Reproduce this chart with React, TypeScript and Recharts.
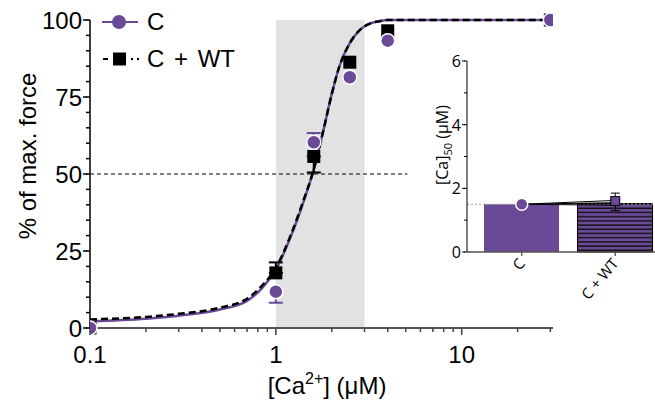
import React from "react";
import {
    ComposedChart,
    Line,
    Scatter,
    Bar,
    Cell,
    XAxis,
    YAxis,
    ErrorBar,
    ReferenceArea,
    ReferenceLine,
} from "recharts";

const PURPLE = "#6a4a97";
const FONT = "'Liberation Sans', Arial, sans-serif";
const INSET_FONT = "'Open Sans', 'DejaVu Sans', sans-serif";

// fitted curves
const curveX = [0.1, 0.2, 0.3, 0.5, 0.7, 0.85, 1.0, 1.2, 1.4, 1.6, 1.8, 2.0, 2.2, 2.5, 2.8, 3.2, 3.6, 4.0, 6, 10, 30];
const curveC = [2.2, 3.0, 4.0, 6.0, 8.8, 13.2, 19, 29.5, 40.5, 51.5, 64, 76, 85, 92.5, 96.5, 98.8, 99.6, 100, 100, 100, 100];
const curveWT = [2.8, 3.6, 4.6, 6.6, 9.5, 14, 19.5, 30, 41, 51.5, 64, 76, 85, 92.5, 96.5, 98.8, 99.6, 100, 100, 100, 100];

// measured points
const doseX = [0.1, 1, 1.6, 2.5, 4, 30];
const forceC = [0, 11.8, 60.3, 81.4, 93.3, 100];
const forceWT = [0, 17.9, 55.7, 86.3, 96.5, 100];

// visible error bars only
const errDoseC = [1, 1.6];
const errMeanC = [11.8, 60.3];
const errDeltaC = [[3.6, 0], [0, 3]];
const errDoseWT = [1, 1.6];
const errMeanWT = [17.9, 55.7];
const errDeltaWT = [[0, 3.4], [5.2, 0]];

const xTicks = [0.1, 0.2, 0.3, 0.4, 0.5, 0.6, 0.7, 0.8, 0.9, 1, 2, 3, 4, 5, 6, 7, 8, 9, 10, 20, 30];
const xLabels = [0.1, 1, 10];
const yTicks = [0, 5, 10, 15, 20, 25, 30, 35, 40, 45, 50, 55, 60, 65, 70, 75, 80, 85, 90, 95, 100];
const yLabels = [0, 25, 50, 75, 100];

// inset: [Ca]50
const insetGroups = ["C", "C + WT"];
const ec50Bar = [1.5, 1.52];
const ec50Marker = [1.5, 1.6];
const ec50Err = [null, [0.3, 0.25]];
const pair1 = [1.5, 1.62];
const pair2 = [1.5, 1.55];
const pair3 = [1.5, 1.47];
const insetTicks = [0, 1, 2, 3, 4, 5, 6];
const insetLabels = [0, 2, 4, 6];

const curveDataC = curveX.map((x, i) => ({ x, y: curveC[i] }));
const curveDataWT = curveX.map((x, i) => ({ x, y: curveWT[i] }));
const pointsC = doseX.map((x, i) => ({ x, y: forceC[i] }));
const pointsWT = doseX.map((x, i) => ({ x, y: forceWT[i] }));
const errPointsC = errDoseC.map((x, i) => ({ x, y: errMeanC[i], err: errDeltaC[i] }));
const errPointsWT = errDoseWT.map((x, i) => ({ x, y: errMeanWT[i], err: errDeltaWT[i] }));
const insetData = insetGroups.map((name, i) => ({
    name,
    bar: ec50Bar[i],
    mean: ec50Marker[i],
    err: ec50Err[i],
    p1: pair1[i],
    p2: pair2[i],
    p3: pair3[i],
}));

// axis draws the short ticks itself (tickSize 4), majors get a longer tick + label
const XTick = (props: any) => {
    const { x, y, payload } = props;
    if (!xLabels.includes(payload.value)) return <g />;
    return (
        <g>
            <rect x={x - 0.75} y={y - 1} width={1.5} height={4} fill="#444" />
            <text x={x} y={y + 31} textAnchor="middle" fontSize={24} fontFamily={FONT} fill="#000">
                {payload.value}
            </text>
        </g>
    );
};

const YTick = (props: any) => {
    const { x, y, payload } = props;
    if (!yLabels.includes(payload.value)) return <g />;
    return (
        <g>
            <rect x={x - 3} y={y - 0.75} width={4} height={1.5} fill="#000" />
            <text x={x - 4} y={y + 8.5} textAnchor="end" fontSize={24} fontFamily={FONT} fill="#000">
                {payload.value}
            </text>
        </g>
    );
};

const InsetXTick = (props: any) => {
    const { x, y, payload } = props;
    return (
        <text
            x={x + 4}
            y={y + 8}
            textAnchor="end"
            fontSize={15}
            fontFamily={INSET_FONT}
            fill="#000"
            transform={`rotate(-50, ${x + 4}, ${y + 8})`}
        >
            {payload.value}
        </text>
    );
};

const InsetYTick = (props: any) => {
    const { x, y, payload } = props;
    if (!insetLabels.includes(payload.value)) return <g />;
    return (
        <g>
            <rect x={x - 2} y={y - 0.5} width={3} height={1} fill="#000" />
            <text x={x - 3} y={y + 6} textAnchor="end" fontSize={16} fontFamily={INSET_FONT} fill="#000">
                {payload.value}
            </text>
        </g>
    );
};

const Circle = (props: any) => {
    const { cx, cy } = props;
    return <circle cx={cx} cy={cy} r={7} fill={PURPLE} stroke="#fff" strokeWidth={1.5} />;
};

const Square = (props: any) => {
    const { cx, cy } = props;
    return <rect x={cx - 6.5} y={cy - 6.5} width={13} height={13} fill="#000" />;
};

const Nothing = () => <g />;

const InsetMarker = (props: any) => {
    const { cx, cy, index } = props;
    if (index === 0) {
        return <circle key="m0" cx={cx} cy={cy} r={6} fill={PURPLE} stroke="#fff" strokeWidth={1.5} />;
    }
    return <rect key="m1" x={cx - 4.5} y={cy - 4.5} width={9} height={9} fill={PURPLE} stroke="#000" strokeWidth={1} />;
};

const LegendBox = () => (
    <div
        style={{
            position: "absolute",
            left: 100,
            top: 3,
            fontFamily: FONT,
            fontSize: 24,
            lineHeight: "37px",
            wordSpacing: 3,
            color: "#000",
        }}
    >
        <div style={{ display: "flex", alignItems: "center" }}>
            <svg width={47} height={20}>
                <line x1={2} x2={38} y1={10} y2={10} stroke={PURPLE} strokeWidth={2} />
                <circle cx={19} cy={10} r={7} fill={PURPLE} />
            </svg>
            <span>C</span>
        </div>
        <div style={{ display: "flex", alignItems: "center" }}>
            <svg width={47} height={20}>
                <line x1={3} x2={8} y1={10} y2={10} stroke="#000" strokeWidth={2} />
                <rect x={13} y={3.5} width={13} height={13} fill="#000" />
                <circle cx={32} cy={10} r={1.2} fill="#000" />
                <circle cx={38} cy={10} r={1.2} fill="#000" />
            </svg>
            <span>C + WT</span>
        </div>
    </div>
);

export default function App() {
    return (
        <div
            style={{
                position: "absolute",
                left: 0,
                top: 0,
                width: 655,
                height: 409,
                overflow: "hidden",
                background: "#fff",
            }}
        >
            <svg width={0} height={0} style={{ position: "absolute" }}>
                <defs>
                    <pattern id="hatch" width={8} height={4.2} patternUnits="userSpaceOnUse">
                        <rect width={8} height={4.2} fill={PURPLE} />
                        <rect y={2.8} width={8} height={1.4} fill="#111" />
                    </pattern>
                </defs>
            </svg>

            <div style={{ position: "absolute", left: 0, top: 0 }}>
                <ComposedChart width={655} height={409} margin={{ top: 20, right: 102, bottom: 0, left: 0 }}>
                    <XAxis
                        type="number"
                        dataKey="x"
                        scale="log"
                        domain={[0.1, 31]}
                        allowDataOverflow
                        ticks={xTicks}
                        tick={<XTick />}
                        tickLine={{ stroke: "#444", strokeWidth: 1.5 }}
                        tickSize={4}
                        tickMargin={0}
                        interval={0}
                        height={81}
                        axisLine={{ stroke: "#555", strokeWidth: 2 }}
                        label={{
                            content: () => (
                                <text x={327} y={394} textAnchor="middle" fontSize={24} fontFamily={FONT} fill="#000">
                                    [Ca
                                    <tspan fontSize={16} dy={-10}>2+</tspan>
                                    <tspan dy={10}>] (μM)</tspan>
                                </text>
                            ),
                        }}
                    />
                    <YAxis
                        type="number"
                        domain={[0, 100]}
                        ticks={yTicks}
                        tick={<YTick />}
                        tickLine={{ stroke: "#000", strokeWidth: 1.5 }}
                        tickSize={4}
                        tickMargin={0}
                        interval={0}
                        width={90}
                        axisLine={{ stroke: "#000", strokeWidth: 1.5 }}
                        label={{
                            content: () => (
                                <text
                                    x={36}
                                    y={156}
                                    textAnchor="middle"
                                    fontSize={24}
                                    fontFamily={FONT}
                                    fill="#000"
                                    transform="rotate(-90, 36, 156)"
                                >
                                    % of max. force
                                </text>
                            ),
                        }}
                    />
                    <ReferenceArea x1={1} x2={3} y1={0} y2={100} fill="#e2e2e2" fillOpacity={1} stroke="none" />
                    <ReferenceLine
                        segment={[
                            { x: 0.1, y: 50 },
                            { x: 5.1, y: 50 },
                        ]}
                        stroke="#000"
                        strokeWidth={1.2}
                        strokeDasharray="4 3"
                    />
                    <Line
                        data={curveDataC}
                        dataKey="y"
                        type="monotone"
                        stroke={PURPLE}
                        strokeWidth={2.5}
                        dot={false}
                        isAnimationActive={false}
                    />
                    <Line
                        data={curveDataWT}
                        dataKey="y"
                        type="monotone"
                        stroke="#000"
                        strokeWidth={2.5}
                        strokeDasharray="7 4"
                        dot={false}
                        isAnimationActive={false}
                    />
                    <Scatter data={errPointsWT} dataKey="y" shape={<Nothing />} isAnimationActive={false}>
                        <ErrorBar dataKey="err" direction="y" width={7} stroke="#000" strokeWidth={2} />
                    </Scatter>
                    <Scatter data={errPointsC} dataKey="y" shape={<Nothing />} isAnimationActive={false}>
                        <ErrorBar dataKey="err" direction="y" width={7} stroke={PURPLE} strokeWidth={2} />
                    </Scatter>
                    <Scatter data={pointsWT} dataKey="y" shape={<Square />} isAnimationActive={false} />
                    <Scatter data={pointsC} dataKey="y" shape={<Circle />} isAnimationActive={false} />
                </ComposedChart>
            </div>

            <LegendBox />

            <div style={{ position: "absolute", left: 417, top: 41 }}>
                <ComposedChart
                    width={250}
                    height={300}
                    data={insetData}
                    margin={{ top: 20, right: 5, bottom: 0, left: 0 }}
                >
                    <XAxis
                        dataKey="name"
                        type="category"
                        padding={{ left: 8, right: 0 }}
                        tick={<InsetXTick />}
                        tickLine={{ stroke: "#444", strokeWidth: 1.2 }}
                        tickSize={4}
                        tickMargin={0}
                        height={89}
                        interval={0}
                        axisLine={{ stroke: "#555", strokeWidth: 1.5 }}
                    />
                    <YAxis
                        type="number"
                        domain={[0, 6]}
                        ticks={insetTicks}
                        tick={<InsetYTick />}
                        tickLine={{ stroke: "#000", strokeWidth: 1 }}
                        tickSize={3}
                        tickMargin={0}
                        interval={0}
                        width={50}
                        axisLine={{ stroke: "#000", strokeWidth: 1 }}
                        label={{
                            content: () => (
                                <text
                                    x={31}
                                    y={104}
                                    textAnchor="middle"
                                    fontSize={16}
                                    fontFamily={INSET_FONT}
                                    fill="#000"
                                    transform="rotate(-90, 31, 104)"
                                >
                                    [Ca]
                                    <tspan fontSize={11} dy={4}>50</tspan>
                                    <tspan dy={-4}> (μM)</tspan>
                                </text>
                            ),
                        }}
                    />
                    <Bar dataKey="bar" barSize={75} isAnimationActive={false}>
                        <Cell fill={PURPLE} />
                        <Cell fill="url(#hatch)" stroke="#000" strokeWidth={1} />
                    </Bar>
                    <ReferenceLine y={1.5} stroke="#999" strokeWidth={1.2} strokeDasharray="2 2" />
                    <Line dataKey="p1" stroke="#000" strokeWidth={1} dot={false} isAnimationActive={false} />
                    <Line dataKey="p2" stroke="#000" strokeWidth={1} dot={false} isAnimationActive={false} />
                    <Line dataKey="p3" stroke="#000" strokeWidth={1} dot={false} isAnimationActive={false} />
                    <Line
                        dataKey="mean"
                        stroke="none"
                        dot={<InsetMarker />}
                        activeDot={false}
                        isAnimationActive={false}
                    >
                        <ErrorBar dataKey="err" direction="y" width={4.5} stroke="#000" strokeWidth={1} />
                    </Line>
                </ComposedChart>
            </div>
        </div>
    );
}
